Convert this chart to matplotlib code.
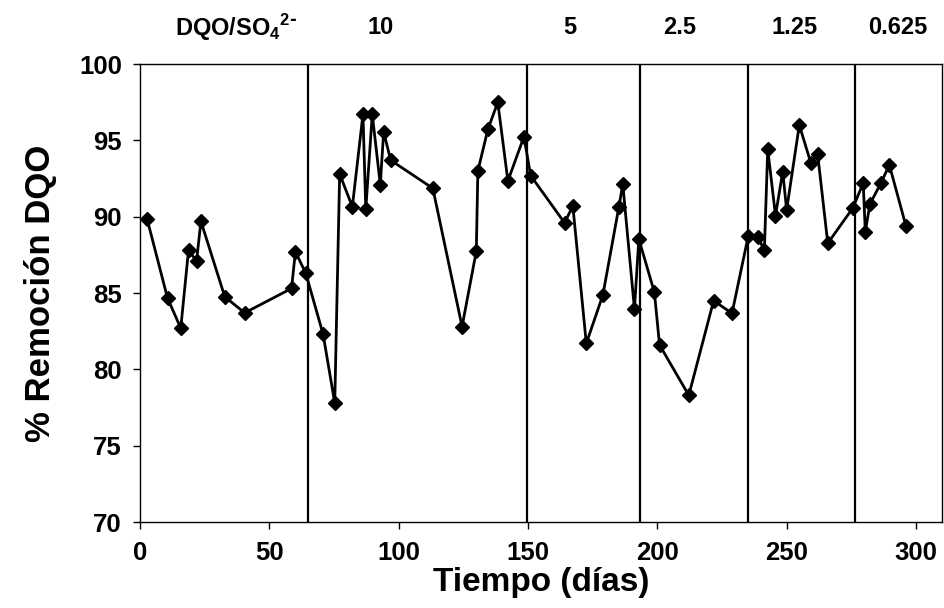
import matplotlib.pyplot as plt

plt.rcParams['font.family'] = ['Liberation Sans', 'DejaVu Sans']
plt.rcParams['font.weight'] = 'bold'

# Tiempo (dias) and % Remocion DQO
dias = [2.8, 10.7, 15.8, 18.8, 21.9, 23.6, 32.8, 40.5, 58.6, 60.1, 64.1,
        70.8, 75.3, 77.2, 82.1, 86.2, 87.3, 89.8, 92.9, 94.2, 96.9,
        113.2, 124.5, 130.0, 130.6, 134.5, 138.3, 142.2, 148.4, 151.0,
        164.1, 167.3, 172.5, 178.9, 185.1, 186.6, 191.1, 192.8, 198.8,
        200.8, 212.1, 221.7, 228.8, 235.1, 238.7, 241.3, 242.6, 245.6,
        248.4, 249.9, 254.8, 259.3, 261.9, 265.8, 275.4, 279.5, 280.3,
        282.1, 286.3, 289.6, 296.0]
remocion = [89.85, 84.66, 82.7, 87.8, 87.1, 89.7, 84.76, 83.7, 85.3, 87.7, 86.3,
            82.3, 77.8, 92.8, 90.65, 96.7, 90.5, 96.7, 92.1, 95.57, 93.7,
            91.86, 82.8, 87.75, 93.0, 95.74, 97.49, 92.34, 95.24, 92.69,
            89.6, 90.7, 81.7, 84.87, 90.65, 92.12, 83.96, 88.54, 85.05,
            81.6, 78.3, 84.5, 83.67, 88.76, 88.7, 87.8, 94.43, 90.07,
            92.95, 90.44, 96.0, 93.5, 94.08, 88.26, 90.55, 92.2, 89.02,
            90.83, 92.19, 93.39, 89.39]

# cambios de relacion DQO/SO4
cambios = [65, 149.5, 193.4, 235.1, 276.4]
etiquetas = ['DQO/SO$_\\mathregular{4}$$^\\mathregular{2\\text{-}}$', '10', '5', '2.5', '1.25', '0.625']
pos_etiquetas = [37, 93, 166, 208.5, 253, 293]

fig = plt.figure(figsize=(9.45, 6.08), dpi=100)
ax = fig.add_axes([0.148, 0.1414, 0.849, 0.7533])

for c in cambios:
    ax.axvline(c, color='black', lw=1.6)

ax.plot(dias, remocion, color='black', lw=2, marker='D', markersize=7.5)

ax.set_xlim(0, 310)
ax.set_ylim(70, 100)
ax.set_xticks(range(0, 301, 50))
ax.set_yticks(range(70, 101, 5))
ax.tick_params(labelsize=18.5, length=5, width=1, direction='out')
ax.tick_params(axis='x', pad=9)
ax.tick_params(axis='y', pad=8)
for s in ax.spines.values():
    s.set_linewidth(1)

ax.set_xlabel('Tiempo (días)', fontsize=24, fontweight='bold', labelpad=1)
ax.set_ylabel('% Remoción DQO', fontsize=25, fontweight='bold', labelpad=16)

for t, xp in zip(etiquetas, pos_etiquetas):
    ax.text(xp, 102.4, t, ha='center', va='center', fontsize=17, fontweight='bold')

fig.savefig('out.png', dpi=100)
